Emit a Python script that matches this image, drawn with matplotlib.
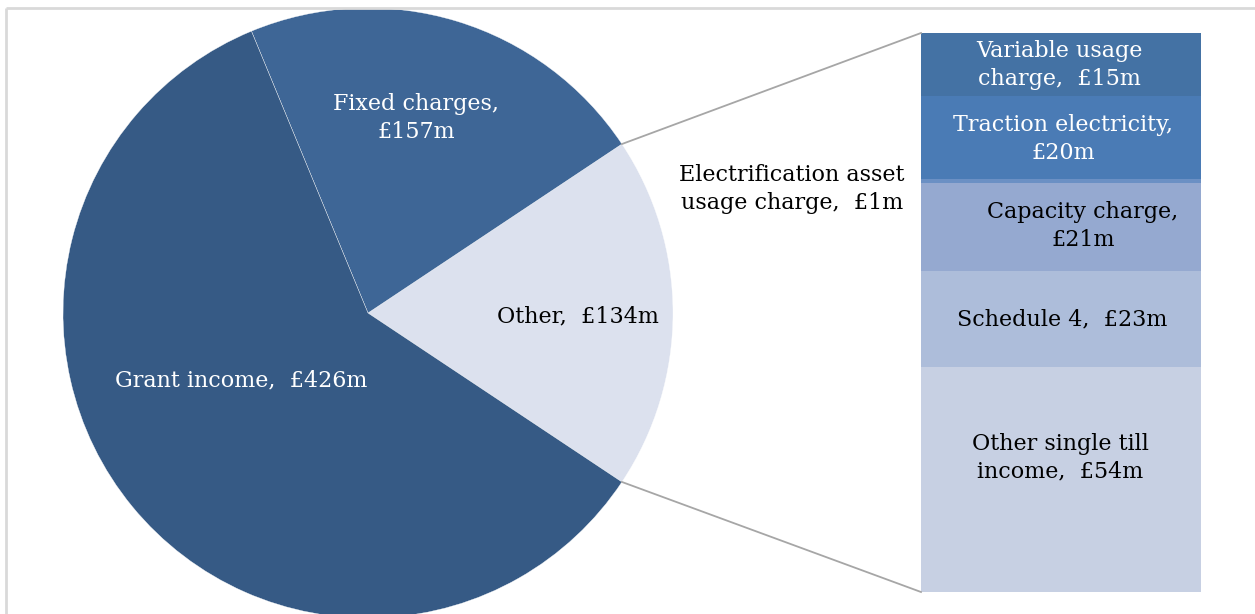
import matplotlib
matplotlib.use("Agg")
import matplotlib.pyplot as plt
import numpy as np

# ---- data ----
pie_labels = ["Other", "Fixed charges", "Grant income"]
pie_values = [134, 157, 426]
pie_colors = ["#dce1ee", "#3e6696", "#365a85"]

bar_labels = ["Other single till\nincome,  £54m", "Schedule 4,  £23m",
              "Capacity charge,\n£21m", "Electrification asset\nusage charge,  £1m",
              "Traction electricity,\n£20m", "Variable usage\ncharge,  £15m"]
bar_values = [54, 23, 21, 1, 20, 15]
bar_colors = ["#c7d0e3", "#adbdda", "#95a9d0", "#6b90c4", "#4a7bb5", "#4472a4"]

W, H = 1255, 614
fig = plt.figure(figsize=(W / 100, H / 100), dpi=100)
FONT = "DejaVu Serif"
FS = 16
LS = 1.3

# main axes in pixel coordinates (y up)
ax = fig.add_axes([0, 0, 1, 1])
ax.set_zorder(3)
cx, cy, r = 368, H - 313, 305
total = sum(pie_values)
start = -pie_values[0] / total * 360 / 2
ax.pie(pie_values, colors=pie_colors, center=(cx, cy), radius=r,
       startangle=start, counterclock=True, frame=True,
       wedgeprops=dict(edgecolor="#ffffff", linewidth=0.25))
ax.set_xlim(0, W)
ax.set_ylim(0, H)
ax.set_aspect("equal")
ax.axis("off")

# frame border
ax.plot([6, W], [H - 8, H - 8], color="#d9d9d9", lw=2, solid_capstyle="butt")
ax.plot([6, 6], [H - 8, 0], color="#d9d9d9", lw=2, solid_capstyle="butt")

# bar axes
bx0, bx1, by_top, by_bot = 921, 1201, 33, 592
bax = fig.add_axes([bx0 / W, (H - by_bot) / H, (bx1 - bx0) / W, (by_bot - by_top) / H])
bax.set_zorder(1)
bottoms = np.concatenate([[0], np.cumsum(bar_values)[:-1]])
bax.bar([0] * len(bar_values), bar_values, bottom=bottoms, width=1.0,
        color=bar_colors, linewidth=0)
bax.set_xlim(-0.5, 0.5)
bax.set_ylim(0, sum(bar_values))
bax.axis("off")

# connector lines
a1 = np.deg2rad(-start)
a0 = np.deg2rad(start)
ax.plot([cx + r * np.cos(a1), bx0], [cy + r * np.sin(a1), H - by_top], color="#a6a6a6", lw=1.3)
ax.plot([cx + r * np.cos(a0), bx0], [cy + r * np.sin(a0), H - by_bot], color="#a6a6a6", lw=1.3)

# pie labels
pie_text = ["Other,  £134m", "Fixed charges,\n£157m", "Grant income,  £426m"]
pie_pos = [(578, 316), (416, 118), (241, 380)]
pie_tc = ["black", "white", "white"]
for t, (x, y), c in zip(pie_text, pie_pos, pie_tc):
    ax.text(x, H - y, t, ha="center", va="center", color=c, fontsize=FS,
            family=FONT, linespacing=LS)

# bar labels
bar_pos = [(1060, 458), (1062, 319), (1083, 226), (792, 189), (1063, 139), (1059, 65)]
bar_tc = ["black", "black", "black", "black", "white", "white"]
for t, (x, y), c in zip(bar_labels, bar_pos, bar_tc):
    ax.text(x, H - y, t, ha="center", va="center", color=c, fontsize=FS,
            family=FONT, linespacing=LS)

fig.savefig("out.png", dpi=100)
